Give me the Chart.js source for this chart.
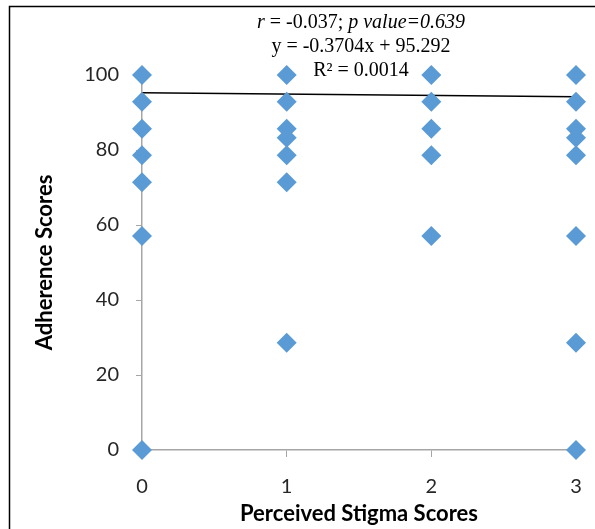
<!DOCTYPE html>
<html>
<head>
<meta charset="utf-8">
<script src="https://cdn.jsdelivr.net/npm/chart.js@4.4.1/dist/chart.umd.min.js"></script>
<style>
  html, body { margin: 0; padding: 0; background: #fff; }
  #wrap { width: 595px; height: 529px; position: relative; }
</style>
</head>
<body>
<div id="wrap"><canvas id="chart" width="595" height="529"></canvas></div>
<script>
// perceived stigma score (x) and adherence score (y)
const stigmaScores = [0, 0, 0, 0, 0, 0, 0,
  1, 1, 1, 1, 1, 1, 1,
  2, 2, 2, 2, 2,
  3, 3, 3, 3, 3, 3, 3, 3];
const adherenceScores = [100, 92.9, 85.7, 78.6, 71.4, 57.1, 0,
  100, 92.9, 85.7, 83.3, 78.6, 71.4, 28.6,
  100, 92.9, 85.7, 78.6, 57.1,
  100, 92.9, 85.7, 83.3, 78.6, 57.1, 28.6, 0];

// linear trend line end points (y = -0.3704x + 95.292)
const trendX = [0, 3];
const trendY = [95.292, 94.181];

const annotationLines = [
  "r = -0.037; p value=0.639",
  "y = -0.3704x + 95.292",
  "R\u00B2 = 0.0014"
];

const xTicks = [0, 1, 2, 3];
const yTicks = [0, 20, 40, 60, 80, 100];

const points = stigmaScores.map((x, i) => ({ x: x, y: adherenceScores[i] }));
const trend = trendX.map((x, i) => ({ x: x, y: trendY[i] }));

// frame + regression text
const decorations = {
  id: "decorations",
  beforeDraw(chart) {
    const ctx = chart.ctx;
    ctx.save();
    ctx.fillStyle = "#fff";
    ctx.fillRect(0, 0, chart.width, chart.height);
    ctx.strokeStyle = "#000";
    ctx.lineWidth = 1.5;
    ctx.beginPath();
    ctx.moveTo(595, 6.5);
    ctx.lineTo(9.5, 6.5);
    ctx.lineTo(9.5, 529);
    ctx.stroke();
    ctx.restore();
  },
  afterDraw(chart) {
    const ctx = chart.ctx;
    ctx.save();
    ctx.fillStyle = "#000";
    ctx.textBaseline = "middle";
    const cx = 361;
    const font = "20px 'Liberation Serif'";
    // first line: mixed italic
    const parts = [
      ["italic ", "r"], ["", " = -0.037; "], ["italic ", "p value=0.639"]
    ];
    let total = 0;
    parts.forEach(p => { ctx.font = p[0] + font; total += ctx.measureText(p[1]).width; });
    let x = cx - total / 2;
    ctx.textAlign = "left";
    parts.forEach(p => {
      ctx.font = p[0] + font;
      ctx.fillText(p[1], x, 23);
      x += ctx.measureText(p[1]).width;
    });
    ctx.textAlign = "center";
    ctx.font = font;
    ctx.fillText(annotationLines[1], cx, 47);
    ctx.fillText(annotationLines[2], cx, 71);
    ctx.restore();
  }
};

new Chart(document.getElementById("chart").getContext("2d"), {
  type: "scatter",
  data: {
    datasets: [
      {
        label: "Trend",
        type: "line",
        data: trend,
        borderColor: "#000",
        borderWidth: 1.5,
        pointRadius: 0,
        fill: false,
        order: 1
      },
      {
        label: "Adherence",
        data: points,
        pointStyle: "rectRot",
        pointRadius: 10,
        pointHoverRadius: 10,
        backgroundColor: "#5B9BD5",
        borderColor: "#5B9BD5",
        borderWidth: 0,
        clip: false,
        order: 0
      }
    ]
  },
  plugins: [decorations],
  options: {
    responsive: false,
    animation: false,
    layout: { autoPadding: false, padding: { top: 75, right: 19, bottom: 2, left: 32 } },
    plugins: {
      legend: { display: false },
      tooltip: { enabled: false }
    },
    scales: {
      x: {
        type: "linear",
        min: 0,
        max: 3,
        afterBuildTicks: s => { s.ticks = xTicks.map(v => ({ value: v })); },
        // keep the tick padding from pushing the plot away from the right edge
        afterFit: s => { s.height = 77; s.paddingLeft = 0; s.paddingRight = 0; },
        grid: { drawOnChartArea: false, drawTicks: true, tickLength: 7, color: "#A6A6A6" },
        border: { color: "#A6A6A6", width: 1.5 },
        ticks: { padding: 18, color: "#262626", font: { family: "Lato", size: 20 } },
        title: {
          display: true,
          text: "Perceived Stigma Scores",
          color: "#000",
          padding: { top: 0, bottom: 0 },
          font: { family: "Lato", size: 22, weight: "bold" }
        }
      },
      y: {
        min: 0,
        max: 100,
        afterBuildTicks: s => { s.ticks = yTicks.map(v => ({ value: v })); },
        afterFit: s => { s.width = 110; },
        grid: { drawOnChartArea: false, drawTicks: true, tickLength: 6, color: "#A6A6A6" },
        border: { color: "#A6A6A6", width: 1.5 },
        ticks: { padding: 17, color: "#262626", font: { family: "Lato", size: 20 } },
        title: {
          display: true,
          text: "Adherence Scores",
          color: "#000",
          padding: { top: 0, bottom: 0 },
          font: { family: "Lato", size: 22, weight: "bold" }
        }
      }
    }
  }
});
</script>
</body>
</html>
